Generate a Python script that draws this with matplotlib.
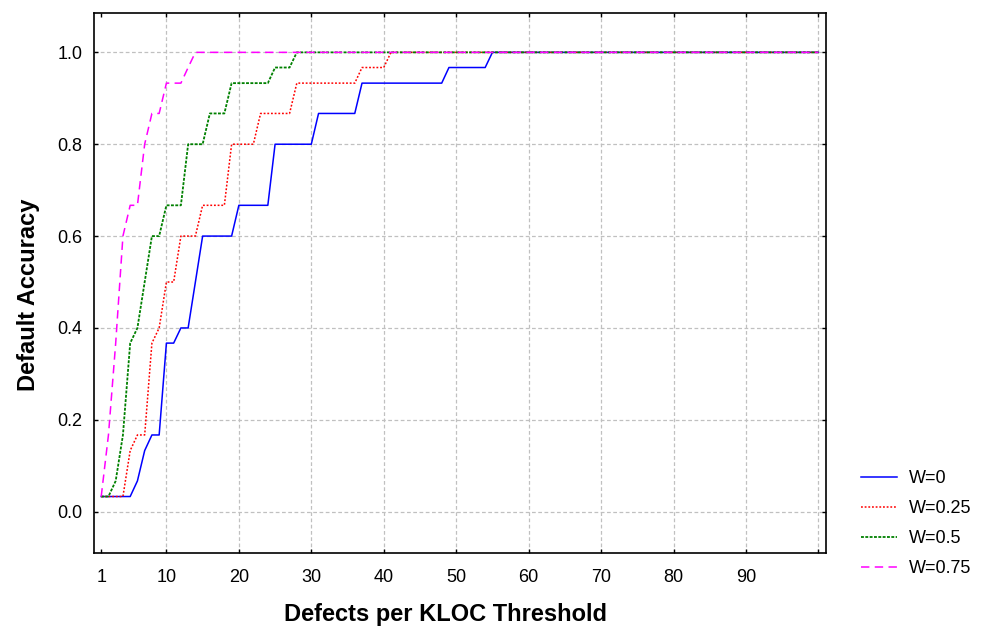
import matplotlib
matplotlib.use('Agg')
import matplotlib.pyplot as plt

plt.rcParams['font.family'] = ['Liberation Sans', 'DejaVu Sans']

# step vertices (x = defects per KLOC threshold)
x_w0 = [1, 5, 6, 7, 8, 9, 10, 11, 12, 13, 14, 15, 19, 20, 24, 25, 30, 31, 36, 37, 48, 49, 54, 55, 100]
y_w0 = [0.033, 0.033, 0.067, 0.133, 0.167, 0.167, 0.367, 0.367, 0.4, 0.4, 0.5, 0.6, 0.6, 0.667, 0.667,
        0.8, 0.8, 0.867, 0.867, 0.933, 0.933, 0.967, 0.967, 1.0, 1.0]

x_w25 = [1, 4, 5, 6, 7, 8, 9, 10, 11, 12, 14, 15, 18, 19, 22, 23, 27, 28, 36, 37, 40, 41, 100]
y_w25 = [0.033, 0.033, 0.133, 0.167, 0.167, 0.367, 0.4, 0.5, 0.5, 0.6, 0.6, 0.667, 0.667, 0.8, 0.8,
         0.867, 0.867, 0.933, 0.933, 0.967, 0.967, 1.0, 1.0]

x_w50 = [1, 2, 3, 4, 5, 6, 7, 8, 9, 10, 12, 13, 15, 16, 18, 19, 24, 25, 27, 28, 100]
y_w50 = [0.033, 0.033, 0.067, 0.167, 0.367, 0.4, 0.5, 0.6, 0.6, 0.667, 0.667, 0.8, 0.8, 0.867, 0.867,
         0.933, 0.933, 0.967, 0.967, 1.0, 1.0]

x_w75 = [1, 2, 3, 4, 5, 6, 7, 8, 9, 10, 12, 13, 14, 100]
y_w75 = [0.033, 0.167, 0.367, 0.6, 0.667, 0.667, 0.8, 0.867, 0.867, 0.933, 0.933, 0.967, 1.0, 1.0]

xticks = [1, 10, 20, 30, 40, 50, 60, 70, 80, 90, 100]
xtick_labels = ['1', '10', '20', '30', '40', '50', '60', '70', '80', '90', '']
yticks = [0.0, 0.2, 0.4, 0.6, 0.8, 1.0]

fig = plt.figure(figsize=(9.88, 6.28), dpi=100)
ax = fig.add_axes([0.0951, 0.1194, 0.7406, 0.8594])

ax.plot(x_w0, y_w0, color='#0000ff', lw=1.1, ls='-', label='W=0')
ax.plot(x_w25, y_w25, color='#ff0000', lw=1.1, ls=(0, (1.2, 1.2)), label='W=0.25')
ax.plot(x_w50, y_w50, color='#008000', lw=1.3, ls=(0, (1.6, 0.8)), label='W=0.5')
ax.plot(x_w75, y_w75, color='#ff00ff', lw=1.1, ls=(0, (5.5, 3.5)), label='W=0.75')

ax.set_xlim(0, 101)
ax.set_ylim(-0.09, 1.085)
ax.set_xticks(xticks)
ax.set_xticklabels(xtick_labels)
ax.set_yticks(yticks)
ax.set_yticklabels([f'{v:.1f}' for v in yticks])
ax.tick_params(direction='in', length=3, width=1, top=True, right=True,
               labelsize=13)
ax.tick_params(axis='x', pad=11.5)
ax.tick_params(axis='y', pad=8.5)

ax.grid(True, color='#c0c0c0', ls=(0, (3, 2)), lw=0.9)
ax.get_xgridlines()[0].set_visible(False)
ax.set_axisbelow(True)
for s in ax.spines.values():
    s.set_linewidth(1.2)

ax.set_xlabel('Defects per KLOC Threshold', fontsize=17, fontweight='bold')
ax.xaxis.set_label_coords(0.481, -0.093)
ax.set_ylabel('Default Accuracy', fontsize=17, fontweight='bold')
ax.yaxis.set_label_coords(-0.074, 0.479)

leg = ax.legend(loc='upper left', bbox_to_anchor=(1.039, 0.167), frameon=False,
                fontsize=13, handlelength=1.95, labelspacing=0.72, handletextpad=0.7,
                borderaxespad=0)

fig.savefig('out.png', dpi=100)
